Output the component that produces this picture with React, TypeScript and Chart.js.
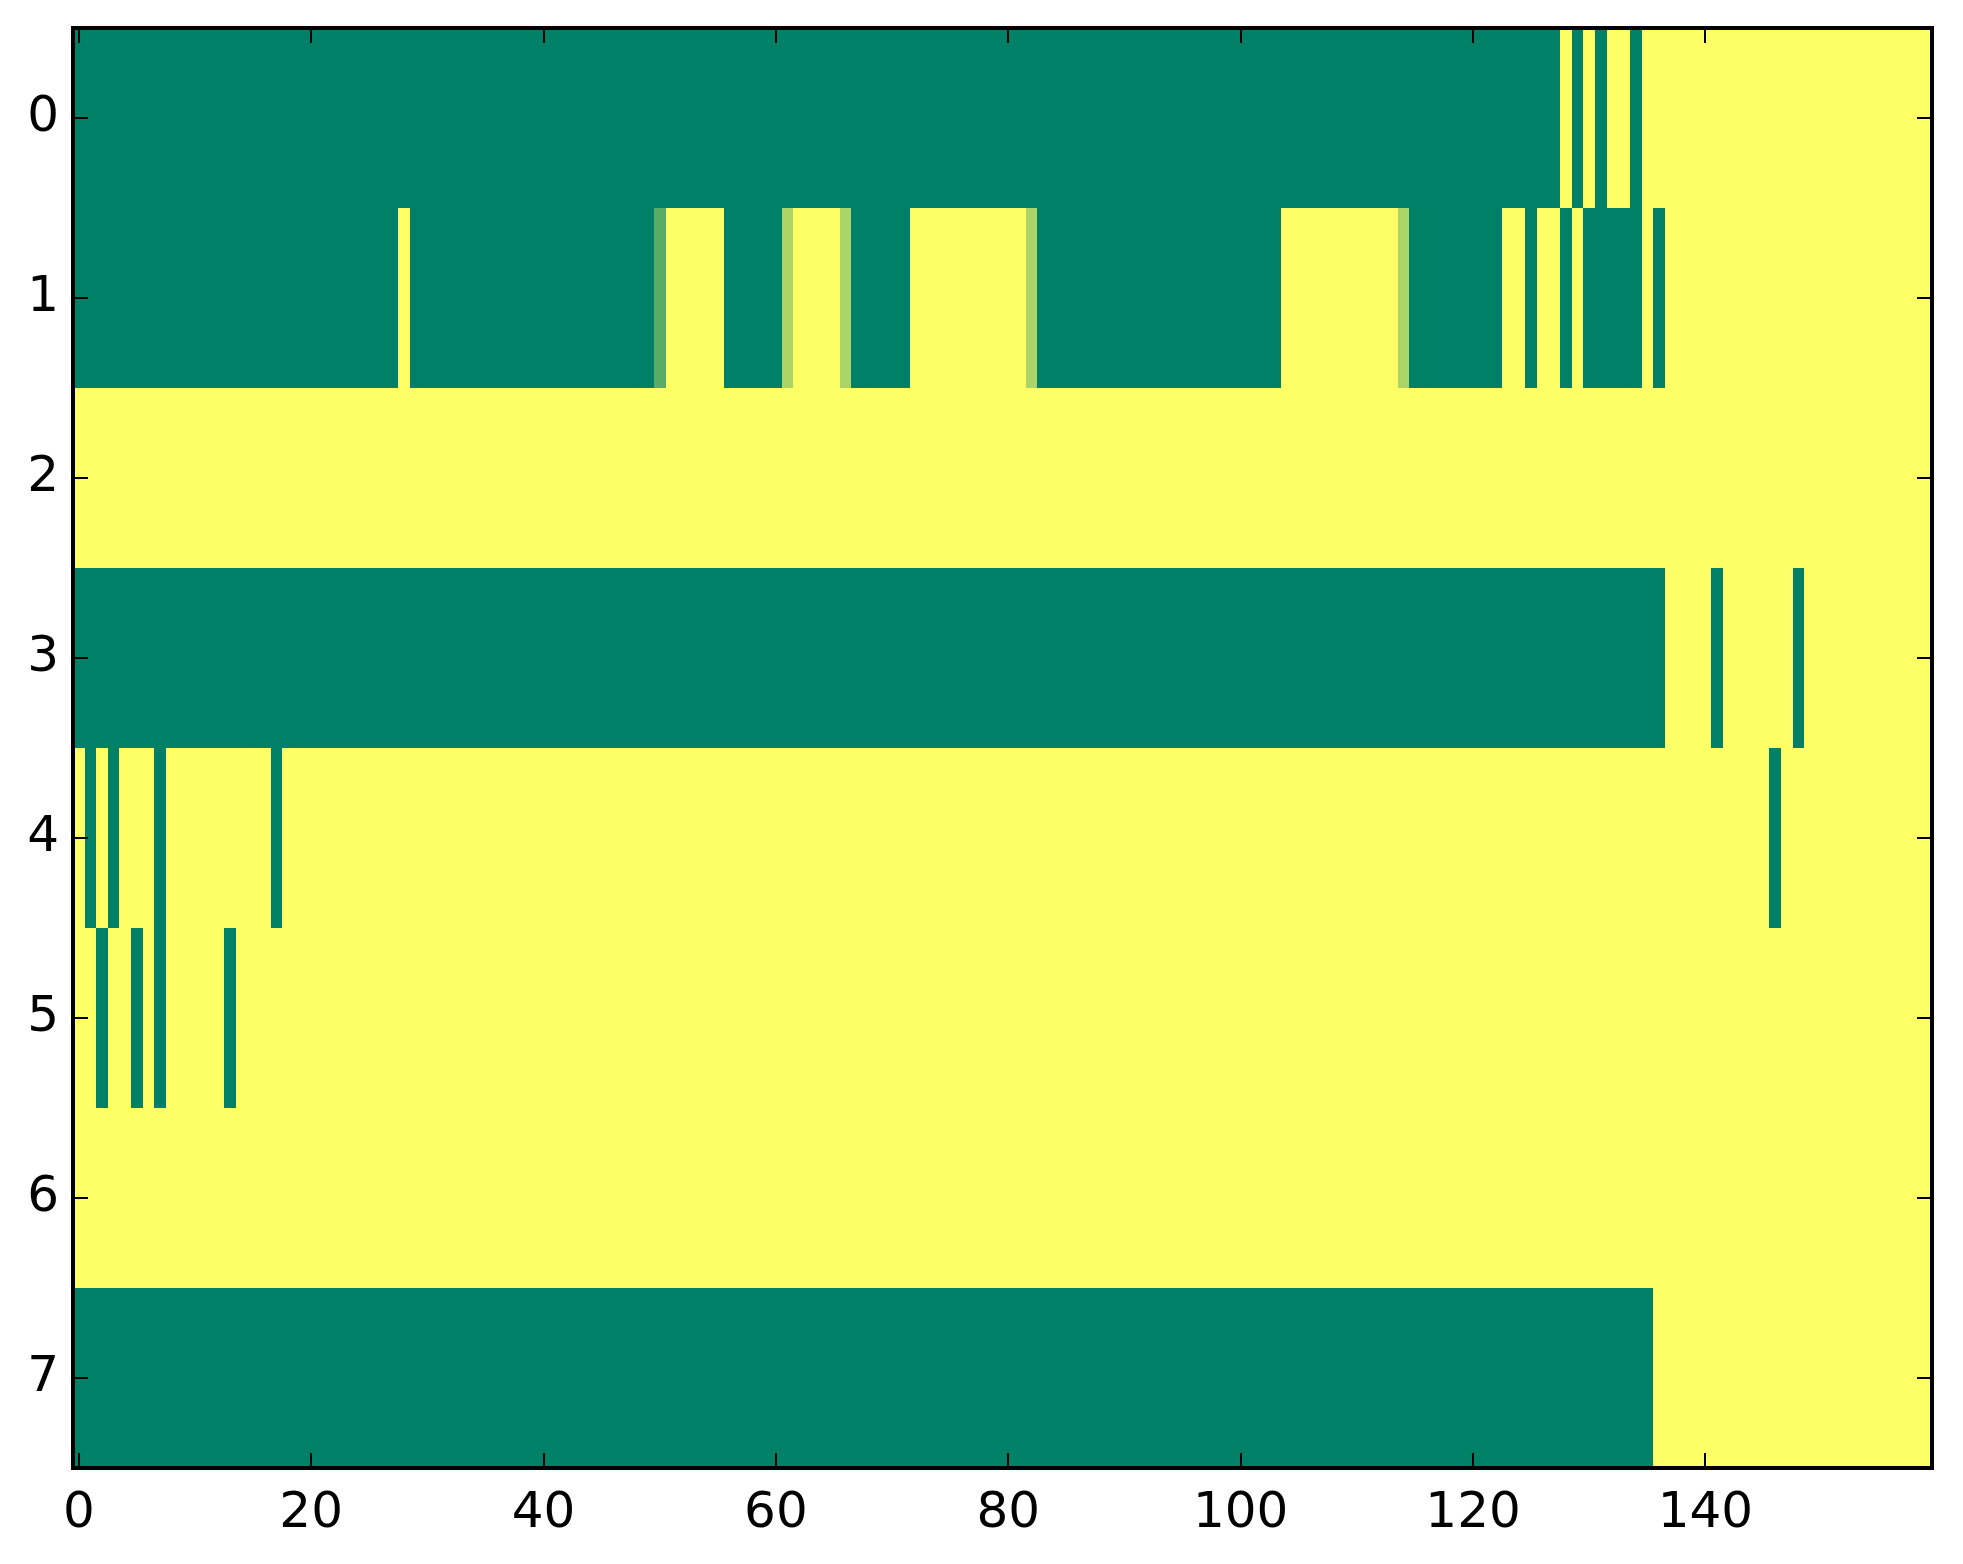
import React, { useEffect, useRef } from "react";
import { Chart, registerables } from "chart.js";

Chart.register(...registerables);

// ---- data ----
const ROW_LABELS = [0, 1, 2, 3, 4, 5, 6, 7];
const X_TICKS = [0, 20, 40, 60, 80, 100, 120, 140];
const N_COLS = 160;

// each row: runs of [firstColumn, lastColumn, value]
const ROW0 = [[0, 127, 0], [128, 128, 1], [129, 129, 0], [130, 130, 1], [131, 131, 0], [132, 133, 1], [134, 134, 0], [135, 159, 1]];
const ROW1 = [
  [0, 27, 0], [28, 28, 1], [29, 49, 0], [50, 50, 0.35], [51, 55, 1], [56, 60, 0], [61, 61, 0.67],
  [62, 65, 1], [66, 66, 0.67], [67, 71, 0], [72, 81, 1], [82, 82, 0.67], [83, 103, 0], [104, 113, 1],
  [114, 114, 0.67], [115, 122, 0], [123, 124, 1], [125, 125, 0], [126, 127, 1], [128, 128, 0],
  [129, 129, 1], [130, 134, 0], [135, 135, 1], [136, 136, 0], [137, 159, 1],
];
const ROW2 = [[0, 159, 1]];
const ROW3 = [[0, 136, 0], [137, 140, 1], [141, 141, 0], [142, 147, 1], [148, 148, 0], [149, 159, 1]];
const ROW4 = [[0, 0, 1], [1, 1, 0], [2, 2, 1], [3, 3, 0], [4, 6, 1], [7, 7, 0], [8, 16, 1], [17, 17, 0], [18, 145, 1], [146, 146, 0], [147, 159, 1]];
const ROW5 = [[0, 1, 1], [2, 2, 0], [3, 4, 1], [5, 5, 0], [6, 6, 1], [7, 7, 0], [8, 12, 1], [13, 13, 0], [14, 159, 1]];
const ROW6 = [[0, 159, 1]];
const ROW7 = [[0, 135, 0], [136, 159, 1]];
const ROWS = [ROW0, ROW1, ROW2, ROW3, ROW4, ROW5, ROW6, ROW7];

// matplotlib "summer" colormap
function summer(v: number): string {
  const r = Math.round(255 * v);
  const g = Math.round(255 * (0.5 + 0.5 * v));
  return `rgb(${r}, ${g}, 102)`;
}

const FONT = { family: "'DejaVu Sans', sans-serif", size: 50 };

const heatmapPlugin = {
  id: "heatmap",
  beforeDatasetsDraw(chart: any) {
    const { ctx } = chart;
    const xs = chart.scales.x;
    const ys = chart.scales.y;
    ctx.save();
    ROWS.forEach((runs, r) => {
      const ya = Math.round(ys.getPixelForValue(r - 0.5));
      const yb = Math.round(ys.getPixelForValue(r + 0.5));
      runs.forEach(([s, e, v]) => {
        const xa = Math.round(xs.getPixelForValue(s - 0.5));
        const xb = Math.round(xs.getPixelForValue(e + 0.5));
        ctx.fillStyle = summer(v);
        ctx.fillRect(xa, Math.min(ya, yb), xb - xa, Math.abs(yb - ya));
      });
    });
    ctx.restore();
  },
  afterDraw(chart: any) {
    const { ctx, chartArea } = chart;
    const { left, right, top, bottom } = chartArea;
    const xs = chart.scales.x;
    const ys = chart.scales.y;
    const TL = 15;
    ctx.save();
    ctx.strokeStyle = "#000";
    ctx.lineWidth = 2;
    ctx.beginPath();
    X_TICKS.forEach((t) => {
      const px = Math.round(xs.getPixelForValue(t));
      ctx.moveTo(px, bottom);
      ctx.lineTo(px, bottom - TL);
      ctx.moveTo(px, top);
      ctx.lineTo(px, top + TL);
    });
    ROW_LABELS.forEach((t) => {
      const py = Math.round(ys.getPixelForValue(t));
      ctx.moveTo(left, py);
      ctx.lineTo(left + TL, py);
      ctx.moveTo(right, py);
      ctx.lineTo(right - TL, py);
    });
    ctx.stroke();
    ctx.lineWidth = 4;
    ctx.strokeRect(left, top, right - left, bottom - top);
    ctx.restore();
  },
};

export default function App() {
  const canvasRef = useRef<HTMLCanvasElement | null>(null);

  useEffect(() => {
    document.body.style.margin = "0";
    const canvas = canvasRef.current;
    if (!canvas) return;
    const chart = new Chart(canvas, {
      type: "scatter",
      data: { datasets: [{ data: [] as any[] }] },
      plugins: [heatmapPlugin],
      options: {
        animation: false,
        responsive: true,
        maintainAspectRatio: false,
        layout: { padding: { left: 0, top: 28, right: 31, bottom: 0 } },
        plugins: { legend: { display: false }, tooltip: { enabled: false } },
        scales: {
          x: {
            type: "linear",
            position: "bottom",
            min: -0.5,
            max: N_COLS - 0.5,
            grid: { display: false, drawTicks: false },
            border: { display: false },
            ticks: { color: "#000", font: FONT, padding: 16, maxRotation: 0 },
            afterBuildTicks: (s: any) => {
              s.ticks = X_TICKS.map((v) => ({ value: v }));
            },
            afterFit: (s: any) => {
              s.height = 96;
              s.paddingLeft = 0;
              s.paddingRight = 0;
            },
          },
          y: {
            type: "linear",
            position: "left",
            reverse: true,
            min: -0.5,
            max: ROW_LABELS.length - 0.5,
            grid: { display: false, drawTicks: false },
            border: { display: false },
            ticks: { color: "#000", font: FONT, padding: 14 },
            afterBuildTicks: (s: any) => {
              s.ticks = ROW_LABELS.map((v) => ({ value: v }));
            },
            afterFit: (s: any) => {
              s.width = 73;
              s.paddingTop = 0;
              s.paddingBottom = 0;
            },
          },
        },
      },
    });
    return () => chart.destroy();
  }, []);

  return (
    <div style={{ position: "absolute", left: 0, top: 0, width: 1963, height: 1564, background: "#fff" }}>
      <canvas ref={canvasRef} />
    </div>
  );
}
